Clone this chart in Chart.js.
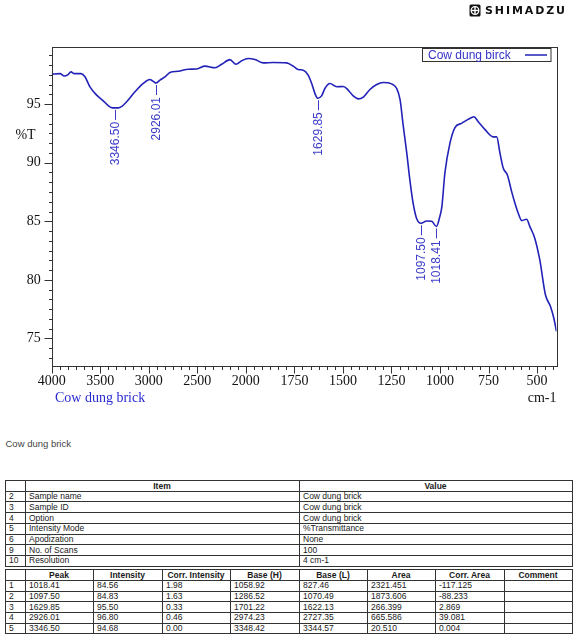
<!DOCTYPE html>
<html><head><meta charset="utf-8">
<script src="https://cdn.jsdelivr.net/npm/chart.js@4.4.1/dist/chart.umd.min.js"></script>
<style>
html,body{margin:0;padding:0;background:#fff;}
body{width:575px;height:640px;position:relative;overflow:hidden;font-family:'Liberation Sans',Arial,sans-serif;}
#c{position:absolute;left:0;top:0;}
.t{position:absolute;white-space:nowrap;}
.serif{font-family:'Liberation Serif','Times New Roman',serif;font-size:14px;line-height:16px;}
.ln{position:absolute;background:#333;}
.cell{position:absolute;white-space:nowrap;overflow:hidden;font-size:8.5px;color:#1a1a1a;font-family:'Liberation Sans',Arial,sans-serif;}
.cell.h{font-weight:bold;text-align:center;}
</style></head><body>
<canvas id="c" width="575" height="412" style="width:575px;height:412px"></canvas>
<div class="t serif" style="left:10px;width:31px;text-align:center;top:127px;color:#111;">%T</div>
<div class="t serif" style="left:55px;top:390px;color:#2a2ad0;">Cow dung brick</div>
<div class="t serif" style="right:18.5px;top:390px;color:#111;">cm-1</div>
<svg style="position:absolute;left:469px;top:3.5px" width="12" height="13" viewBox="0 0 12 13"><rect x="0.5" y="0.5" width="11" height="12" rx="1.5" fill="#111"/><circle cx="6" cy="6.5" r="3.8" fill="none" stroke="#fff" stroke-width="1.3"/><rect x="2.2" y="5.8" width="7.6" height="1.4" fill="#fff"/><rect x="5.3" y="2.7" width="1.4" height="7.6" fill="#fff"/></svg>
<div class="t" style="left:485px;top:3.5px;font:bold 11px 'DejaVu Sans',sans-serif;letter-spacing:1.9px;line-height:14px;color:#111;">SHIMADZU</div>
<div class="t" style="left:5.5px;top:438px;font-size:9.5px;color:#444;line-height:11px;">Cow dung brick</div>
<div id="tables"></div>
<script>
// ---------- spectrum data ----------
const wavenumbers = [4000,3914,3870,3835,3801,3767,3698,3657,3606,3537,3469,3389,3346.5,3297,3228,3142,3057,2988,2964,2926.01,2885,2833,2782,2696,2593,2507,2421,2318,2249,2164,2102,2043,1988,1953,1910,1859,1790,1756,1730,1704,1679,1661,1644,1629.85,1610,1593,1567,1532,1498,1473,1447,1421,1395,1361,1326,1292,1249,1223,1206,1189,1171,1155,1138,1121,1097.5,1069,1043,1018.41,1001,990,975,949,923,889,855,825,803,769,726,708,691,674,653,631,614,597,579,554,537,512,486,457,431,414,400];
const transmittance = [97.56,97.6,97.4,97.5,97.75,97.6,97.6,97.33,96.47,95.77,95.28,94.72,94.68,94.72,95.2,96.05,96.76,97.1,97.0,96.8,97.05,97.33,97.7,97.8,97.98,98.0,98.24,98.1,98.4,98.8,98.4,98.7,98.89,98.8,98.52,98.55,98.52,98.24,97.96,97.9,97.47,96.76,95.9,95.5,95.7,96.33,96.76,96.48,96.5,96.2,95.7,95.45,95.6,96.25,96.68,96.85,96.73,96.33,95.4,93.1,90.8,88.5,86.5,85.26,84.83,85.03,85.0,84.56,85.4,86.3,89.1,91.65,93.0,93.36,93.7,93.92,93.5,92.84,92.2,92.2,90.8,89.52,88.95,87.53,86.54,85.69,85.06,85.18,84.55,83.56,81.7,78.73,77.73,76.75,75.6];
const peakWavenumbers = [3346.50, 2926.01, 1629.85, 1097.50, 1018.41];
const peakTransmittance = [94.68, 96.80, 95.50, 84.83, 84.56];
const peakLabels = ['3346.50','2926.01','1629.85','1097.50','1018.41'];
const xTickLabels = [4000,3500,3000,2500,2000,1750,1500,1250,1000,750,500];
const yTickLabels = [75,80,85,90,95];
const seriesName = 'Cow dung birck';

// ---------- table data ----------
const infoNo = ['2','3','4','5','6','9','10'];
const infoItem = ['Sample name','Sample ID','Option','Intensity Mode','Apodization','No. of Scans','Resolution'];
const infoValue = ['Cow dung brick','Cow dung brick','Cow dung brick','%Transmittance','None','100','4 cm-1'];
const peakHeader = ['Peak','Intensity','Corr. Intensity','Base (H)','Base (L)','Area','Corr. Area','Comment'];
const tblPeak = ['1018.41','1097.50','1629.85','2926.01','3346.50'];
const tblIntensity = ['84.56','84.83','95.50','96.80','94.68'];
const tblCorrIntensity = ['1.98','1.63','0.33','0.46','0.00'];
const tblBaseH = ['1058.92','1286.52','1701.22','2974.23','3348.42'];
const tblBaseL = ['827.46','1070.49','1622.13','2727.35','3344.57'];
const tblArea = ['2321.451','1873.606','266.399','665.586','20.510'];
const tblCorrArea = ['-117.125','-88.233','2.869','39.081','0.004'];
const tblComment = ['','','','',''];

// split wavenumber axis (4000-2000 compressed by 2)
function toPos(w){ return w >= 2000 ? (4000 - w) / 2 : 1000 + (2000 - w); }

const CURVE = '#2222b8';
const LABEL = '#3c3cc8';

const decor = {
  id: 'decor',
  afterDatasetsDraw(chart){
    const {ctx, scales:{x, y}} = chart;
    ctx.save();
    ctx.strokeStyle = LABEL; ctx.fillStyle = LABEL; ctx.lineWidth = 1;
    ctx.font = '12px "Liberation Sans", Arial, sans-serif';
    peakWavenumbers.forEach((w, i) => {
      const px = Math.round(x.getPixelForValue(toPos(w))) + 0.5;
      const py = y.getPixelForValue(peakTransmittance[i]);
      ctx.beginPath(); ctx.moveTo(px, py + 2); ctx.lineTo(px, py + 12); ctx.stroke();
      ctx.save();
      ctx.translate(px, py + 14);
      ctx.rotate(-Math.PI / 2);
      ctx.textAlign = 'right'; ctx.textBaseline = 'middle';
      ctx.fillText(peakLabels[i], 0, 0.5);
      ctx.restore();
    });
    ctx.restore();
  },
  afterDraw(chart){
    const {ctx, chartArea:a, scales:{x, y}} = chart;
    ctx.save();
    ctx.strokeStyle = '#333'; ctx.lineWidth = 1;
    const L = Math.round(a.left) + 0.5, T = Math.round(a.top) + 0.5;
    const R = Math.round(a.right) + 0.5, B = Math.round(a.bottom) + 0.5;
    ctx.strokeRect(L, T, R - L, B - T);
    ctx.beginPath();
    // x ticks: majors every 250 position units, 5 minors between
    for (let i = 0; ; i++){
      const p = i * 250 / 6; if (p > x.max + 1e-6) break;
      const px = Math.round(x.getPixelForValue(p)) + 0.5;
      const major = i % 6 === 0;
      ctx.moveTo(px, B); ctx.lineTo(px, B + (major ? 7 : 3.5));
    }
    // y ticks: majors every 5, 5 minors between
    for (let k = -6; ; k++){
      const v = 75 + k * 5 / 6; if (v > y.max) break; if (v < y.min) continue;
      const py = Math.round(y.getPixelForValue(v)) + 0.5;
      const major = ((k % 6) + 6) % 6 === 0;
      ctx.moveTo(L, py); ctx.lineTo(L - (major ? 8 : 3.5), py);
    }
    ctx.stroke();
    // legend box
    const lx = 422.5, ly = 48.5, lw = 128.5, lh = 13;
    ctx.fillStyle = '#fff'; ctx.fillRect(lx, ly, lw, lh);
    ctx.strokeStyle = '#333'; ctx.strokeRect(lx, ly, lw, lh);
    ctx.fillStyle = '#3434c8'; ctx.font = '12px "Liberation Sans", Arial, sans-serif';
    ctx.textAlign = 'left'; ctx.textBaseline = 'middle';
    ctx.fillText(seriesName, 428, ly + lh / 2 + 0.5);
    ctx.strokeStyle = CURVE; ctx.lineWidth = 1.5;
    ctx.beginPath(); ctx.moveTo(525, ly + lh / 2); ctx.lineTo(547, ly + lh / 2); ctx.stroke();
    ctx.restore();
  }
};

new Chart(document.getElementById('c'), {
  type: 'line',
  data: { datasets: [{
    label: seriesName,
    data: wavenumbers.map((w, i) => ({x: toPos(w), y: transmittance[i]})),
    borderColor: CURVE, borderWidth: 1.6, pointRadius: 0,
    cubicInterpolationMode: 'monotone', fill: false
  }]},
  options: {
    responsive: false, animation: false, devicePixelRatio: 1,
    layout: { padding: {left: 0, top: 46.7, right: 18.5, bottom: 0} },
    plugins: { legend: {display: false}, tooltip: {enabled: false} },
    scales: {
      x: {
        type: 'linear', min: 0, max: toPos(400),
        afterFit(s){ s.height = 46; },
        afterBuildTicks(s){ s.ticks = xTickLabels.map(w => ({value: toPos(w)})); },
        ticks: { callback: (v, i) => String(xTickLabels[i]), autoSkip: false, maxRotation: 0, minRotation: 0,
          padding: 7, color: '#111', font: {family: "'Liberation Serif','Times New Roman',serif", size: 14} },
        grid: { display: false, drawTicks: false }, border: { display: false }
      },
      y: {
        type: 'linear', min: 72.65, max: 99.9,
        afterFit(s){ s.width = 51.7; },
        afterBuildTicks(s){ s.ticks = yTickLabels.map(v => ({value: v})); },
        ticks: { callback: (v, i) => String(yTickLabels[i]), padding: 11, color: '#111',
          font: {family: "'Liberation Serif','Times New Roman',serif", size: 14} },
        grid: { display: false, drawTicks: false }, border: { display: false }
      }
    }
  },
  plugins: [decor]
});

// ---------- tables ----------
function buildTable(colEdges, top, rowH, rows, headerRow){
  const host = document.getElementById('tables');
  const nRows = rows.length;
  const left = colEdges[0], right = colEdges[colEdges.length - 1];
  for (let r = 0; r <= nRows; r++){
    const d = document.createElement('div'); d.className = 'ln';
    d.style.left = left + 'px'; d.style.width = (right - left + 1) + 'px';
    d.style.top = (top + r * rowH) + 'px'; d.style.height = '1px';
    host.appendChild(d);
  }
  colEdges.forEach(cx => {
    const d = document.createElement('div'); d.className = 'ln';
    d.style.left = cx + 'px'; d.style.width = '1px';
    d.style.top = top + 'px'; d.style.height = (nRows * rowH + 1) + 'px';
    host.appendChild(d);
  });
  rows.forEach((row, r) => {
    row.forEach((txt, c) => {
      if (!txt) return;
      const d = document.createElement('div');
      d.className = 'cell' + (r === 0 && headerRow ? ' h' : '');
      d.textContent = txt;
      const x0 = colEdges[c], x1 = colEdges[c + 1];
      d.style.top = (top + r * rowH + 0.5) + 'px';
      d.style.height = rowH + 'px'; d.style.lineHeight = rowH + 'px';
      if (r === 0 && headerRow){ d.style.left = x0 + 'px'; d.style.width = (x1 - x0) + 'px'; }
      else { d.style.left = (x0 + 4) + 'px'; d.style.width = (x1 - x0 - 5) + 'px'; }
      host.appendChild(d);
    });
  });
}
const info = [['', 'Item', 'Value']].concat(infoNo.map((n, i) => [n, infoItem[i], infoValue[i]]));
buildTable([5, 25, 299, 572], 480, 10.7, info, true);
const pk = [[''].concat(peakHeader)].concat(tblPeak.map((p, i) =>
  [String(i + 1), p, tblIntensity[i], tblCorrIntensity[i], tblBaseH[i], tblBaseL[i], tblArea[i], tblCorrArea[i], tblComment[i]]));
const pe = [5]; for (let k = 0; k <= 8; k++) pe.push(Math.round(25 + k * 68.375));
buildTable(pe, 569.3, 10.67, pk, true);
</script>
</body></html>
